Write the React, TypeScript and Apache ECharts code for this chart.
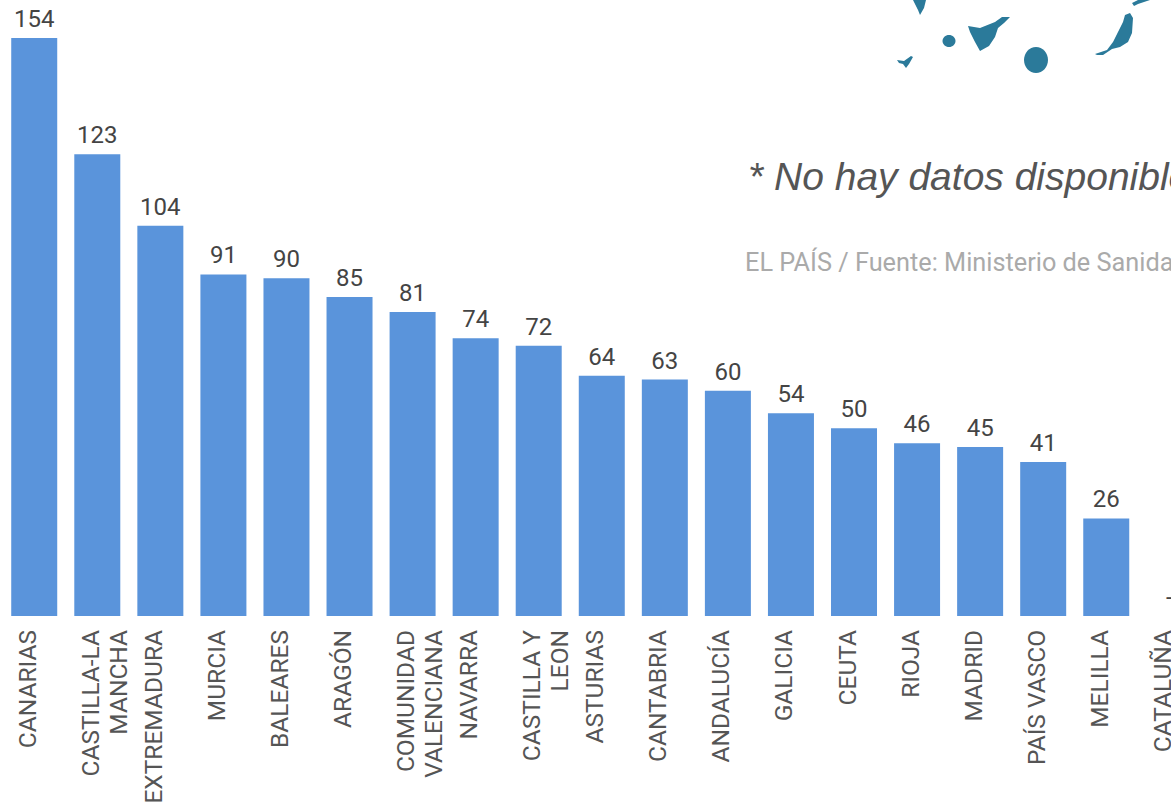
import React, { useEffect, useRef } from "react";
import * as echarts from "echarts";

const categories = ["CANARIAS","CASTILLA-LA\nMANCHA","EXTREMADURA","MURCIA","BALEARES","ARAGÓN","COMUNIDAD\nVALENCIANA","NAVARRA","CASTILLA Y\nLEON","ASTURIAS","CANTABRIA","ANDALUCÍA","GALICIA","CEUTA","RIOJA","MADRID","PAÍS VASCO","MELILLA","CATALUÑA"];
const values = [154,123,104,91,90,85,81,74,72,64,63,60,54,50,46,45,41,26,0];
const noteText = "* No hay datos disponibles";
const sourceText = "EL PAÍS / Fuente: Ministerio de Sanidad";
const sans = 'Roboto, "Liberation Sans", sans-serif';
const teal = "#2b7a9a";
const labelFont = { fontFamily: sans, fontSize: 24.5, color: "#555555", align: "right" as const };
const islands = [
  [[913,0],[926,0],[924,8],[920,15],[918,10]],
  [[897,60],[904,61],[911,56],[913,57],[909,64],[906,68],[903,64],[899,63]],
  [[968,26],[980,28],[995,22],[1002,17],[1010,17],[1004,23],[998,28],[995,37],[989,46],[980,51],[975,42],[970,32]],
  [[1095,54],[1107,50],[1113,42],[1118,32],[1123,22],[1125,15],[1130,13],[1133,18],[1132,33],[1128,42],[1120,47],[1112,49],[1103,55],[1097,55]],
  [[1132,3],[1138,0],[1150,0],[1138,4],[1134,6]],
];

export default function App() {
  const ref = useRef<HTMLDivElement>(null);
  useEffect(() => {
    const chart = echarts.init(ref.current!, undefined, { renderer: "svg" });
    chart.setOption({
      animation: false,
      backgroundColor: "#ffffff",
      grid: { left: 2.7, top: 38, width: 1198.14, height: 578, outerBoundsMode: "none", containLabel: false },
      xAxis: {
        type: "category",
        data: categories,
        axisLine: { show: false },
        axisTick: { show: false },
        axisLabel: {
          interval: 0, rotate: 90, align: "right", verticalAlign: "middle", margin: 14, hideOverlap: false,
          ...labelFont,
          formatter: (v: string) => {
            const lines = v.split("\n");
            return lines.length > 1 ? `{a|${lines[0]}}\n{b|${lines[1]}}` : `{s|${v}}`;
          },
          rich: {
            a: { ...labelFont, lineHeight: 42 },
            b: { ...labelFont, lineHeight: 14 },
            s: { ...labelFont, lineHeight: 28, padding: [0, 0, 14, 0] },
          },
        },
      },
      yAxis: { type: "value", min: 0, max: 154, show: false },
      series: [{
        type: "bar",
        data: values,
        barWidth: 46,
        itemStyle: { color: "#5a94db" },
        label: {
          show: true, position: "top", distance: 7,
          formatter: (p: any) => (p.value === 0 ? "-" : String(p.value)),
          fontFamily: sans, fontSize: 24, color: "#444444",
        },
      }],
      graphic: [
        ...islands.map((points) => ({ type: "polygon", shape: { points }, style: { fill: teal } })),
        { type: "ellipse", shape: { cx: 949, cy: 41, rx: 6.5, ry: 6 }, style: { fill: teal } },
        { type: "ellipse", shape: { cx: 1036, cy: 60, rx: 12, ry: 13 }, style: { fill: teal } },
        { type: "text", x: 748, y: 157, style: { text: noteText, fill: "#555555", font: 'italic 39px "Liberation Sans", sans-serif' } },
        { type: "text", x: 745, y: 250, style: { text: sourceText, fill: "#aaaaaa", font: '25.3px ' + sans } },
      ],
    });
    return () => chart.dispose();
  }, []);
  return <div ref={ref} style={{ position: "fixed", left: 0, top: 0, width: 1171, height: 806, overflow: "hidden" }} />;
}
